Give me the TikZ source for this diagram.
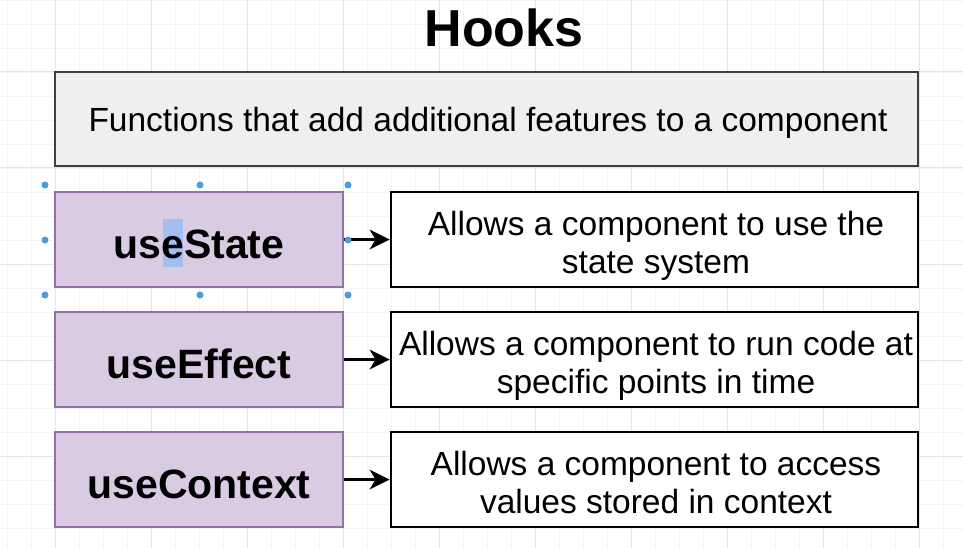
\documentclass[tikz,border=0pt]{standalone}
\usepackage{fontspec}
\setmainfont{Liberation Sans}
\usetikzlibrary{arrows.meta}
\definecolor{gridminor}{HTML}{F4F4F4}
\definecolor{gridmajor}{HTML}{E6E6E6}
\definecolor{grayfill}{HTML}{F0EFF0}
\definecolor{grayline}{HTML}{3F3F3F}
\definecolor{hookfill}{HTML}{D9CCE2}
\definecolor{hookline}{HTML}{9470A6}
\definecolor{selblue}{HTML}{4A9BE6}
\definecolor{hilite}{HTML}{A3BFF2}
\begin{document}
\begin{tikzpicture}[x=1pt,y=-1pt,
  hookbox/.style={draw=hookline, fill=hookfill, line width=1.6pt, minimum width=288pt, minimum height=95pt, inner sep=0pt},
  hooktext/.style={anchor=base, inner sep=0pt, font=\fontsize{41}{46}\selectfont\bfseries},
  descbox/.style={draw=black, fill=white, line width=2pt, minimum width=527pt, minimum height=95pt, inner sep=0pt},
  desctext/.style={anchor=base, inner sep=0pt, font=\fontsize{33.5}{38}\selectfont},
  conn/.style={draw=black, line width=2.2pt, shorten >=12pt},
  headtip/.style={fill=black},
  handle/.style={circle, fill=selblue, inner sep=0pt, minimum size=7pt}
]
\useasboundingbox (0,0) rectangle (963,548);
\fill[white] (0,0) rectangle (963,548);
% grid
\foreach \x in {7,31,...,963} \draw[gridminor, line width=0.8pt] (\x,0) -- (\x,548);
\foreach \y in {0,24,...,548} \draw[gridminor, line width=0.8pt] (0,\y) -- (963,\y);
\foreach \x in {55,151,...,963} \draw[gridmajor, line width=1pt] (\x,0) -- (\x,548);
\foreach \y in {72,168,...,548} \draw[gridmajor, line width=1pt] (0,\y) -- (963,\y);

\node[anchor=base, inner sep=0pt, font=\fontsize{52}{56}\selectfont\bfseries] (title) at (504,47) {Hooks};

\node[draw=grayline, fill=grayfill, line width=2pt, minimum width=863pt, minimum height=94pt, inner sep=0pt] (intro) at (486.5,119) {};
\node[desctext] (introt) at (488,132) {Functions that add additional features to a component};

% useState with selection
\node[hookbox] (s1) at (199,239.5) {};
\fill[hilite] (163,219) rectangle (183,267);
\node[hooktext] (s1t) at (199,258) {useState};
\draw[hookline, line width=1.2pt, densely dotted] (s1.north west) rectangle (s1.south east);

\node[hookbox] (s2) at (199,359.5) {};
\node[hooktext] (s2t) at (199,378) {useEffect};
\node[hookbox] (s3) at (199,479.5) {};
\node[hooktext] (s3t) at (199,498) {useContext};

\node[descbox] (d1) at (654.5,239.5) {};
\node[desctext] (d1a) at (656,235) {Allows a component to use the};
\node[desctext] (d1b) at (656,273) {state system};
\node[descbox] (d2) at (654.5,359.5) {};
\node[desctext] (d2a) at (656,355) {Allows a component to run code at};
\node[desctext] (d2b) at (656,393) {specific points in time};
\node[descbox] (d3) at (654.5,479.5) {};
\node[desctext] (d3a) at (656,475) {Allows a component to access};
\node[desctext] (d3b) at (656,513) {values stored in context};

\foreach \a/\b in {s1/d1,s2/d2,s3/d3} {
  \draw[conn] (\a.east) -- (\b.west);
  \fill[headtip] ([xshift=-0.5pt]\b.west) -- ++(-20,-10) -- ++(6,10) -- ++(-6,10) -- cycle;
}

% selection handles
\foreach \p [count=\i] in {(45,185),(200,185),(348,185),(45,240),(348,240),(45,295),(200,295),(348,295)}
  \node[handle] (h\i) at \p {};
\end{tikzpicture}
\end{document}
